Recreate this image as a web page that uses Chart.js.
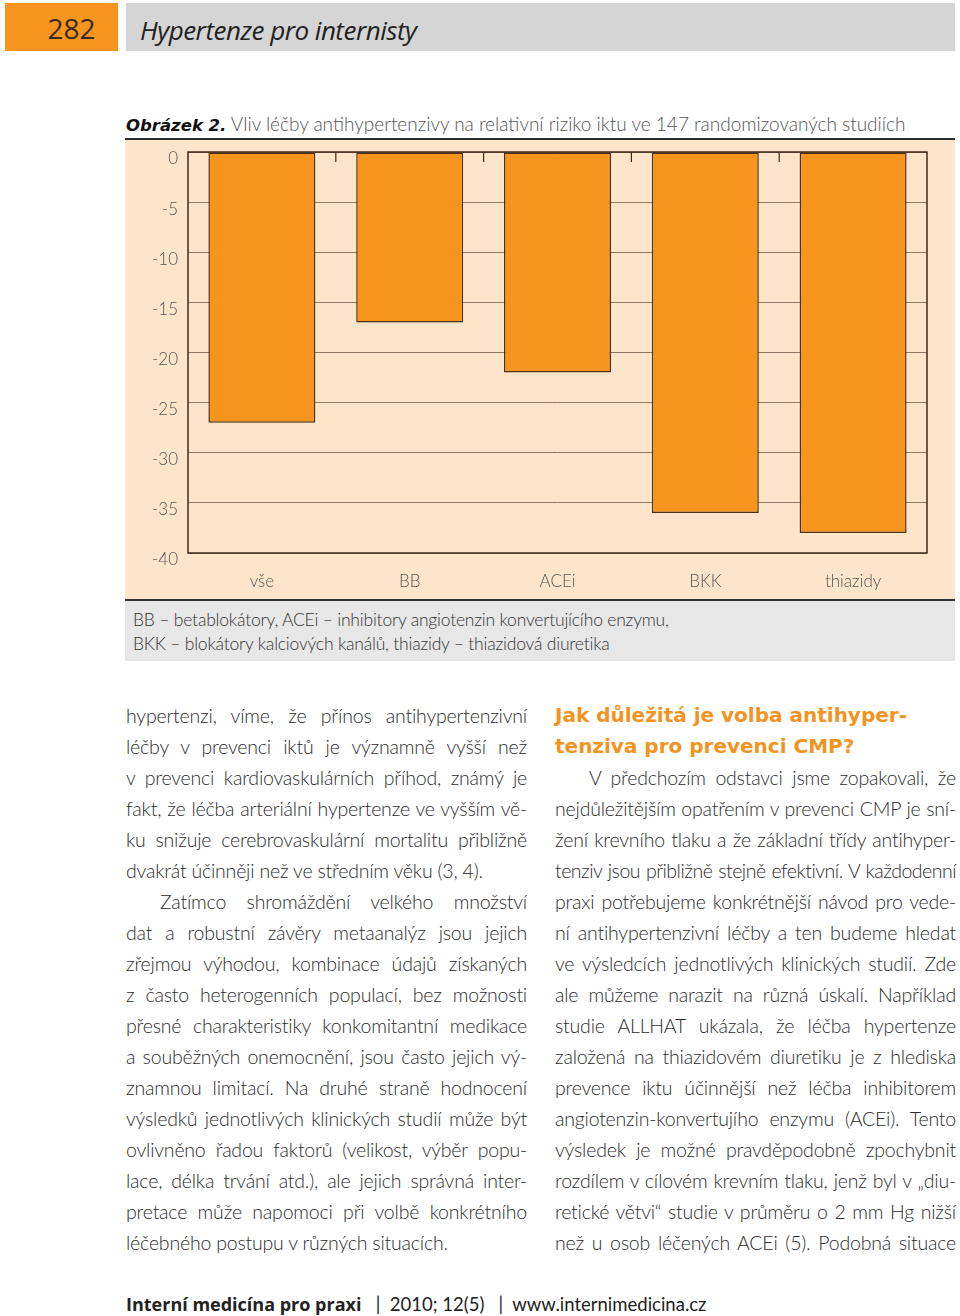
<!DOCTYPE html>
<html lang="cs">
<head>
<meta charset="utf-8">
<script src="https://cdn.jsdelivr.net/npm/chart.js@4.4.1/dist/chart.umd.min.js"></script>
<style>
  html, body { margin: 0; padding: 0; background: #fff; }
  body { width: 960px; height: 1316px; position: relative; overflow: hidden; font-family: Lato, "Open Sans", sans-serif; color: #3a3a3a; }
  .pg { position: absolute; left: 5px; top: 3px; width: 113px; height: 48px; background: #f7941d; color: #3a2a1a; font-size: 28px; line-height: 50px; text-align: center; font-family: "Open Sans", sans-serif; box-sizing: border-box; padding-left: 20px; }
  .hd { position: absolute; left: 126px; top: 3px; width: 829px; height: 48px; background: #d5d5d5; }
  .hd span { position: absolute; left: 14px; top: 9px; font-size: 26px; font-style: italic; color: #222; font-family: "Open Sans", sans-serif; letter-spacing: -0.5px; }
  .ftitle { position: absolute; left: 126px; top: 112px; font-size: 19px; color: #555; white-space: nowrap; font-weight: 300; }
  .ftitle b { font-family: "DejaVu Sans", sans-serif; font-style: italic; font-weight: bold; color: #111; font-size: 16.5px; }
  .rule { position: absolute; left: 125px; top: 138px; width: 830px; height: 2px; background: #2a2a2a; }
  .panel { position: absolute; left: 125px; top: 140px; width: 830px; height: 460px; background: #fde5cb; }
  .chartbox { position: absolute; left: 125px; top: 141px; width: 830px; height: 459px; }
  .cap { position: absolute; left: 125px; top: 599px; width: 830px; height: 62px; background: #e7e7e7; border-top: 2px solid #333; box-sizing: border-box; padding: 7px 0 0 8px; font-size: 17.5px; line-height: 24px; color: #333; font-weight: 300; letter-spacing: -0.2px; }
  .col { position: absolute; top: 700px; width: 401px; font-size: 19.5px; line-height: 31px; font-weight: 300; color: #2c2c2c; letter-spacing: -0.2px; }
  .col div { text-align: justify; text-align-last: justify; white-space: nowrap; }
  .col div.end { text-align-last: left; }
  .col div.ind { padding-left: 34px; }
  .left { left: 126px; }
  .right { left: 555px; }
  .col h3 { margin: 0; font-family: "DejaVu Sans", sans-serif; font-weight: bold; color: #f39322; font-size: 20px; line-height: 31px; white-space: nowrap; letter-spacing: 0; }
  .foot { position: absolute; left: 126px; top: 1292px; font-size: 18.5px; color: #222; white-space: nowrap; }
  .foot b { font-family: "Open Sans", sans-serif; font-weight: 700; font-size: 18px; }
</style>
</head>
<body>
<div class="pg">282</div>
<div class="hd"><span>Hypertenze pro internisty</span></div>

<div class="ftitle"><b>Obrázek 2.</b> Vliv léčby antihypertenzivy na relativní riziko iktu ve 147 randomizovaných studiích</div>
<div class="rule"></div>
<div class="panel"></div>
<div class="chartbox"><canvas id="strokeChart"></canvas></div>
<div class="cap">BB – betablokátory, ACEi – inhibitory angiotenzin konvertujícího enzymu,<br>BKK – blokátory kalciových kanálů, thiazidy – thiazidová diuretika</div>

<div class="col left">
  <div>hypertenzi, víme, že přínos antihypertenzivní</div>
  <div>léčby v prevenci iktů je významně vyšší než</div>
  <div>v prevenci kardiovaskulárních příhod, známý je</div>
  <div>fakt, že léčba arteriální hypertenze ve vyšším vě-</div>
  <div>ku snižuje cerebrovaskulární mortalitu přibližně</div>
  <div class="end">dvakrát účinněji než ve středním věku (3, 4).</div>
  <div class="ind">Zatímco shromáždění velkého množství</div>
  <div>dat a robustní závěry metaanalýz jsou jejich</div>
  <div>zřejmou výhodou, kombinace údajů získaných</div>
  <div>z často heterogenních populací, bez možnosti</div>
  <div>přesné charakteristiky konkomitantní medikace</div>
  <div>a souběžných onemocnění, jsou často jejich vý-</div>
  <div>znamnou limitací. Na druhé straně hodnocení</div>
  <div>výsledků jednotlivých klinických studií může být</div>
  <div>ovlivněno řadou faktorů (velikost, výběr popu-</div>
  <div>lace, délka trvání atd.), ale jejich správná inter-</div>
  <div>pretace může napomoci při volbě konkrétního</div>
  <div class="end">léčebného postupu v různých situacích.</div>
</div>

<div class="col right">
  <h3>Jak důležitá je volba antihyper-</h3>
  <h3>tenziva pro prevenci CMP?</h3>
  <div class="ind">V předchozím odstavci jsme zopakovali, že</div>
  <div>nejdůležitějším opatřením v prevenci CMP je sní-</div>
  <div>žení krevního tlaku a že základní třídy antihyper-</div>
  <div style="letter-spacing:-0.5px">tenziv jsou přibližně stejně efektivní. V každodenní</div>
  <div>praxi potřebujeme konkrétnější návod pro vede-</div>
  <div>ní antihypertenzivní léčby a ten budeme hledat</div>
  <div>ve výsledcích jednotlivých klinických studií. Zde</div>
  <div>ale můžeme narazit na různá úskalí. Například</div>
  <div>studie ALLHAT ukázala, že léčba hypertenze</div>
  <div>založená na thiazidovém diuretiku je z hlediska</div>
  <div>prevence iktu účinnější než léčba inhibitorem</div>
  <div>angiotenzin-konvertujího enzymu (ACEi). Tento</div>
  <div>výsledek je možné pravděpodobně zpochybnit</div>
  <div>rozdílem v cílovém krevním tlaku, jenž byl v „diu-</div>
  <div>retické větvi“ studie v průměru o 2 mm Hg nižší</div>
  <div>než u osob léčených ACEi (5). Podobná situace</div>
</div>

<div class="foot"><b>Interní medicína pro praxi</b> &nbsp; | &nbsp;2010; 12(5) &nbsp; | &nbsp;www.internimedicina.cz</div>

<script>
var categories = ["vše", "BB", "ACEi", "BKK", "thiazidy"];
var riskChange = [-27, -17, -22, -36, -38];
var yTickLabels = ["0", "-5", "-10", "-15", "-20", "-25", "-30", "-35", "-40"];

// frame round the plot area plus the short marks between categories at the top
var framePlugin = {
    id: 'frame',
    afterDatasetsDraw: function (chart) {
        var ctx = chart.ctx;
        var area = chart.chartArea;
        var xs = chart.scales.x;
        ctx.save();
        ctx.strokeStyle = "#3d2a18";
        ctx.lineWidth = 1.5;
        ctx.strokeRect(area.left, area.top, area.right - area.left, area.bottom - area.top);
        ctx.lineWidth = 1.2;
        for (var i = 1; i < categories.length; i++) {
            var bx = (xs.getPixelForValue(i - 1) + xs.getPixelForValue(i)) / 2;
            ctx.beginPath();
            ctx.moveTo(bx, area.top);
            ctx.lineTo(bx, area.top + 10);
            ctx.stroke();
        }
        ctx.restore();
    }
};

function drawStrokeChart() {
    var ctxStroke = document.getElementById("strokeChart");
    var strokeChart = new Chart(ctxStroke, {
        type: 'bar',
        data: {
            labels: categories,
            datasets: [{
                label: 'relativní riziko iktu',
                data: riskChange,
                backgroundColor: "#f7941d",
                borderColor: "#4e3014",
                borderWidth: 1.5,
                borderSkipped: false,
                categoryPercentage: 1,
                barPercentage: 0.724
            }]
        },
        options: {
            responsive: true,
            maintainAspectRatio: false,
            animation: false,
            layout: { padding: { top: 11, right: 28, left: 0, bottom: 0 } },
            plugins: { legend: { display: false }, tooltip: { enabled: false } },
            scales: {
                x: {
                    grid: { display: false },
                    border: { display: false },
                    ticks: { color: "#555", padding: 10, font: { family: "Lato", size: 17, weight: 300 } },
                    afterFit: function (scale) { scale.height = 47; }
                },
                y: {
                    min: -40,
                    max: 0,
                    border: { display: false },
                    grid: { color: "#8d7a66", lineWidth: 1, drawTicks: false },
                    ticks: {
                        stepSize: 5,
                        padding: 10,
                        labelOffset: 7,
                        color: "#555",
                        font: { family: "Lato", size: 17, weight: 300 },
                        callback: function (value) { return yTickLabels[Math.round(-value / 5)]; }
                    },
                    afterFit: function (scale) {
                        scale.width = 63;
                        scale.paddingTop = 0;
                        scale.paddingBottom = 0;
                    }
                }
            }
        },
        plugins: [framePlugin]
    });
}

drawStrokeChart();
</script>
</body>
</html>
